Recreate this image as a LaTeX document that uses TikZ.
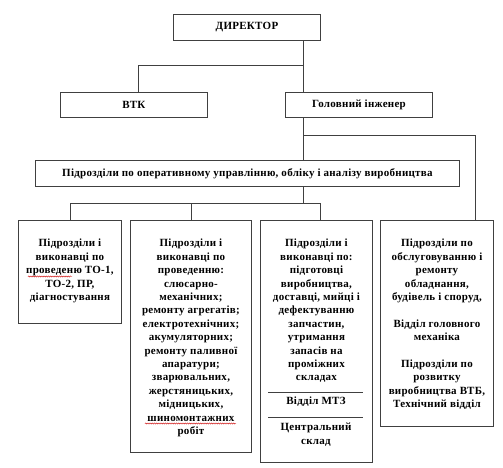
\documentclass[tikz,border=0pt]{standalone}
\usepackage{fontspec}
\usetikzlibrary{decorations.pathmorphing}
\setmainfont{Liberation Serif}[BoldFont={Liberation Serif Bold},LetterSpace=2.5]
\begin{document}
\begin{tikzpicture}[x=1pt,y=-1pt,
  box/.style={draw=black!75,line width=0.9pt,fill=white,inner sep=0pt,anchor=north west},
  txt/.style={font=\bfseries\fontsize{11}{13.4}\selectfont,align=center,inner sep=0pt,anchor=north},
  conn/.style={draw=black!75,line width=0.9pt},
  squiggle/.style={draw=red!80!black,line width=0.4pt,decorate,decoration={snake,segment length=2.2pt,amplitude=0.6pt}}]
\useasboundingbox (0,0) rectangle (503,468);
% boxes
\node[box,minimum width=147pt,minimum height=26pt] (dir) at (173,14) {};
\node[txt,anchor=center] at (dir.center) {ДИРЕКТОР};
\node[box,minimum width=147pt,minimum height=25pt] (vtk) at (60,92) {};
\node[txt,anchor=center] at (vtk.center) {ВТК};
\node[box,minimum width=147pt,minimum height=25pt] (gi) at (285,92) {};
\node[txt,anchor=center] at (gi.center) {Головний інженер};
\node[box,minimum width=424pt,minimum height=26pt] (wide) at (35,160) {};
\node[txt,anchor=center] at (wide.center) {Підрозділи по оперативному управлінню, обліку і аналізу виробництва};
\node[box,minimum width=103pt,minimum height=103pt] (b1) at (18,220) {};
\node[box,minimum width=121pt,minimum height=232pt] (b2) at (130,220) {};
\node[box,minimum width=112pt,minimum height=242pt] (b3) at (260,220) {};
\node[box,minimum width=113pt,minimum height=206pt] (b4) at (380,220) {};
\node[txt] (t1) at ([yshift=-19pt]b1.north) {Підрозділи і\\виконавці по\\проведеню ТО-1,\\ТО-2, ПР,\\діагностування};
\node[txt] (t2) at ([yshift=-19pt]b2.north) {Підрозділи і\\виконавці по\\проведенню:\\слюсарно-\\механічних;\\ремонту агрегатів;\\електротехнічних;\\акумуляторних;\\ремонту паливної\\апаратури;\\зварювальних,\\жерстяницьких,\\мідницьких,\\шиномонтажних\\робіт};
\node[txt] (t3) at ([yshift=-19pt]b3.north) {Підрозділи і\\виконавці по:\\підготовці\\виробництва,\\доставці, мийці і\\дефектуванню\\запчастин,\\утримання\\запасів на\\проміжних\\складах};
\node[txt] (t3b) at (316,397) {Відділ МТЗ};
\node[txt] (t3c) at (316,423) {Центральний\\склад};
\node[txt] (t4) at ([yshift=-19pt]b4.north) {Підрозділи по\\обслуговуванню і\\ремонту\\обладнання,\\будівель і споруд,\\[13.4pt]Відділ головного\\механіка\\[13.4pt]Підрозділи по\\розвитку\\виробництва ВТБ,\\Технічний відділ};
% spell-check squiggles
\coordinate (q1a) at (28,276.5); \coordinate (q1b) at (72,276.5);
\coordinate (q2a) at (145,423.5); \coordinate (q2b) at (236,423.5);
\draw[squiggle] (q1a) -- (q1b);
\draw[squiggle] (q2a) -- (q2b);
% separators in box 3
\coordinate (s1l) at (268,392); \coordinate (s1r) at (363,392);
\coordinate (s2l) at (268,417); \coordinate (s2r) at (363,417);
\draw[conn] (s1l) -- (s1r);
\draw[conn] (s2l) -- (s2r);
% connectors
\coordinate (spine) at (303,65);
\coordinate (vtkx) at (138,65);
\coordinate (gleft) at (303,135);
\coordinate (gright) at (475,135);
\coordinate (lower) at (303,203);
\draw[conn] (dir.south -| spine) -- (gi.north -| spine);
\draw[conn] (spine) -- (vtkx) -- (vtk.north -| vtkx);
\draw[conn] (gi.south -| spine) -- (wide.north -| spine);
\draw[conn] (gleft) -- (gright) -- (b4.north -| gright);
\draw[conn] (wide.south -| lower) -- (lower);
\coordinate (h1) at (b1.north |- lower);
\coordinate (h3) at (320,203);
\draw[conn] (b1.north) -- (h1) -- (h3) -- (b3.north -| h3);
\draw[conn] (b2.north) -- (b2.north |- lower);
\end{tikzpicture}
\end{document}
